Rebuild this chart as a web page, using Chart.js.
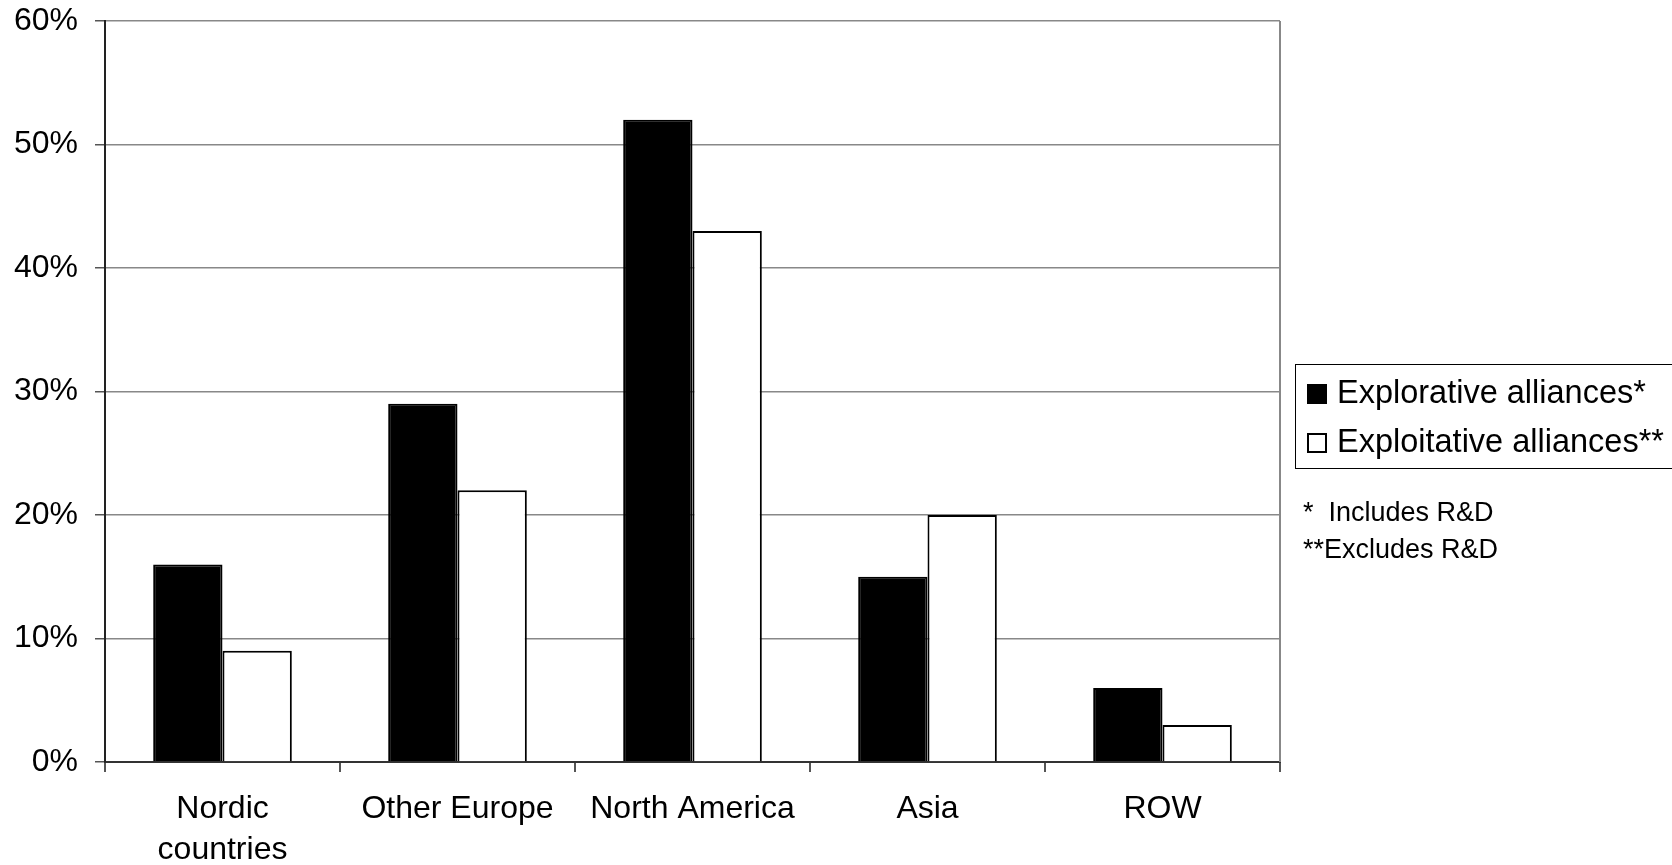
<!DOCTYPE html>
<html>
<head>
<meta charset="utf-8">
<script src="https://cdn.jsdelivr.net/npm/chart.js@4"></script>
<style>
    html, body {
        margin: 0;
        padding: 0;
        background: #ffffff;
        overflow: hidden;
    }

    #wrap {
        position: relative;
        width: 1672px;
        height: 865px;
    }

    #legendBox {
        position: absolute;
        left: 1295px;
        top: 364px;
        width: 400px;
        height: 103px;
        border: 1px solid #000;
        font-family: "Liberation Sans", Arial, sans-serif;
        font-size: 32.5px;
        color: #000;
    }

    .legendRow {
        position: absolute;
        left: 11px;
        white-space: nowrap;
        line-height: 36px;
    }

    .swatch {
        display: inline-block;
        width: 16px;
        height: 16px;
        border: 2px solid #000;
        margin-right: 10px;
        vertical-align: -1px;
    }

    .note {
        position: absolute;
        left: 1303px;
        font-family: "Liberation Sans", Arial, sans-serif;
        font-size: 27px;
        color: #000;
        white-space: pre;
        line-height: 30px;
    }
</style>
</head>
<body>

<div id="wrap">
    <canvas id="allianceChart" width="1672" height="865"></canvas>
    <div id="legendBox"></div>
    <div class="note" id="note1" style="top: 497px;"></div>
    <div class="note" id="note2" style="top: 534px;"></div>
</div>

<script>

const categories = [
    ["Nordic", "countries"],
    "Other Europe",
    "North America",
    "Asia",
    "ROW"
];

const seriesNames = [
    "Explorative alliances*",
    "Exploitative alliances**"
];

const explorative = [16, 29, 52, 15, 6];
const exploitative = [9, 22, 43, 20, 3];

const yTicks = [0, 10, 20, 30, 40, 50, 60];

const notes = [
    "*  Includes R&D",
    "**Excludes R&D"
];

// right hand frame line of the plot
const frameRight = {
    id: "frameRight",
    afterDraw(chart) {
        const area = chart.chartArea;
        const ctx = chart.ctx;
        ctx.save();
        ctx.strokeStyle = "#888888";
        ctx.lineWidth = 2;
        ctx.beginPath();
        ctx.moveTo(area.right, area.top);
        ctx.lineTo(area.right, area.bottom);
        ctx.stroke();
        ctx.restore();
    }
};

function buildLegend() {

    const box = document.getElementById("legendBox");
    const fills = ["#000000", "#ffffff"];
    const tops = [9, 58];

    seriesNames.forEach(function (name, i) {
        const row = document.createElement("div");
        row.className = "legendRow";
        row.style.top = tops[i] + "px";
        const sw = document.createElement("span");
        sw.className = "swatch";
        sw.style.background = fills[i];
        row.appendChild(sw);
        row.appendChild(document.createTextNode(name));
        box.appendChild(row);
    });

    document.getElementById("note1").textContent = notes[0];
    document.getElementById("note2").textContent = notes[1];
}

function drawChart() {

    const ctx = document.getElementById("allianceChart").getContext("2d");

    new Chart(ctx, {

        type: "bar",

        data: {

            labels: categories,

            datasets: [
                {
                    label: seriesNames[0],
                    data: explorative,
                    backgroundColor: "#000000",
                    borderColor: "#000000",
                    borderWidth: 2,
                    categoryPercentage: 0.59,
                    barPercentage: 1.0
                },
                {
                    label: seriesNames[1],
                    data: exploitative,
                    backgroundColor: "#ffffff",
                    borderColor: "#000000",
                    borderWidth: 2,
                    categoryPercentage: 0.59,
                    barPercentage: 1.0
                }
            ]

        },

        options: {

            responsive: false,
            animation: false,

            layout: {
                padding: { top: 21, right: 392, bottom: 0, left: 0 }
            },

            plugins: {
                legend: { display: false },
                tooltip: { enabled: false }
            },

            scales: {

                x: {
                    grid: {
                        offset: true,
                        drawOnChartArea: false,
                        drawTicks: true,
                        tickLength: 10,
                        tickColor: "#555555",
                        lineWidth: 2
                    },
                    border: { color: "#333333", width: 2 },
                    ticks: {
                        color: "#000000",
                        padding: 17,
                        maxRotation: 0,
                        font: { family: "Liberation Sans", size: 32, lineHeight: 1.27 }
                    },
                    afterFit(scale) {
                        scale.height = 103;
                    }
                },

                y: {
                    min: yTicks[0],
                    max: yTicks[yTicks.length - 1],
                    afterBuildTicks(scale) {
                        scale.ticks = yTicks.map(function (v) { return { value: v }; });
                    },
                    grid: {
                        color: "#888888",
                        lineWidth: 1.5,
                        tickLength: 10,
                        tickColor: "#555555"
                    },
                    border: { color: "#222222", width: 2 },
                    ticks: {
                        color: "#000000",
                        padding: 17,
                        font: { family: "Liberation Sans", size: 32 },
                        callback: function (v) { return v + "%"; }
                    },
                    afterFit(scale) {
                        scale.width = 105;
                        scale.paddingTop = 0;
                    }
                }

            }

        },

        plugins: [frameRight]

    });

}

buildLegend();
drawChart();

</script>
</body>
</html>
